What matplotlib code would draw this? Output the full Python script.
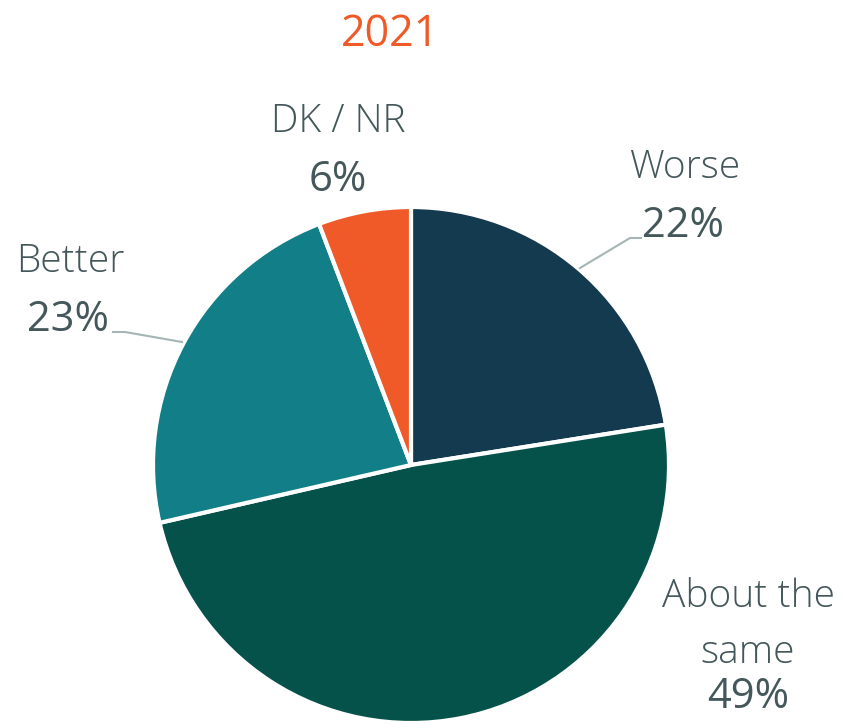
import matplotlib
matplotlib.use("Agg")
import matplotlib.pyplot as plt

labels = ["Worse", "About the\nsame", "Better", "DK / NR"]
values = [22.5, 48.9, 22.8, 5.8]
pct_labels = ["22%", "49%", "23%", "6%"]
colors = ["#133A4F", "#05524A", "#127E87", "#F05A28"]
title = "2021"

text_col = "#44575A"
plt.rcParams['font.family'] = ['Open Sans', 'DejaVu Sans']

W, H = 844, 724
fig = plt.figure(figsize=(W / 100, H / 100), dpi=100)
ax = fig.add_axes([0, 0, 1, 1])

cx, cy, r = 411, H - 465, 258
ax.pie(values, colors=colors, startangle=90, counterclock=False,
       center=(cx, cy), radius=r, frame=True,
       wedgeprops=dict(edgecolor="white", linewidth=3))
ax.set_xlim(0, W)
ax.set_ylim(0, H)
ax.set_aspect("equal")
ax.axis("off")

def y(p):
    return H - p

ax.text(390, y(35), title, color="#F05A28", fontsize=31, ha="center", va="center")

# name label, percent label (pixel centres)
pos = [((685, 168), (683, 226)),
       ((748, 597), (748, 697)),
       ((70, 262), (68, 320)),
       ((338, 122), (338, 180))]
for lab, pct, (p1, p2) in zip(labels, pct_labels, pos):
    if "\n" in lab:
        first, second = lab.split("\n")
        ax.text(p1[0], y(p1[1]), first, color=text_col, fontsize=28, ha="center", va="center", fontweight="light")
        ax.text(p1[0], y(p1[1] + 56), second, color=text_col, fontsize=28, ha="center", va="center", fontweight="light")
    else:
        ax.text(p1[0], y(p1[1]), lab, color=text_col, fontsize=28, ha="center", va="center", fontweight="light")
    ax.text(p2[0], y(p2[1]), pct, color=text_col, fontsize=30, ha="center", va="center")

# leader lines
ax.plot([580, 630, 641], [y(268), y(238), y(238)], color="#A5B5B5", lw=1.5)
ax.plot([182, 125, 113], [y(342), y(332), y(332)], color="#A5B5B5", lw=1.5)

fig.savefig("out.png", dpi=100)
